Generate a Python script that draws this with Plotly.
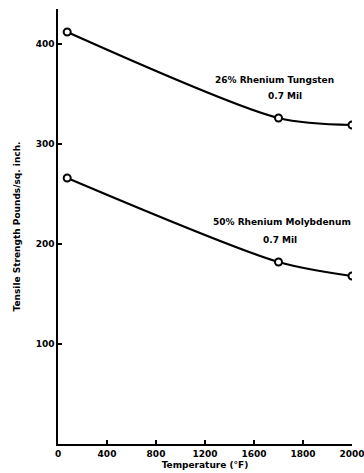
import plotly.graph_objects as go

temps = [75, 1800, 2400]
w_re = [412, 326, 319]
mo_re = [266, 182, 168]
xtick_vals = [0, 400, 800, 1200, 1600, 2000, 2400]
xtick_text = ["0", "400", "800", "1200", "1600", "1800", "2000"]
ytick_vals = [100, 200, 300, 400]
ytick_text = ["100", "200", "300", "400"]

FONT = "DejaVu Sans, Liberation Sans, sans-serif"

fig = go.Figure()
for ys in (w_re, mo_re):
    fig.add_trace(go.Scatter(
        x=temps, y=ys, mode="lines+markers",
        line=dict(color="black", width=2.2, shape="spline", smoothing=0.8),
        marker=dict(symbol="circle", size=7, color="white",
                    line=dict(color="black", width=2)),
        showlegend=False, hoverinfo="skip"))

labels = [
    ("26% Rhenium Tungsten", 1771, 364),
    ("0.7 Mil", 1853, 348),
    ("50% Rhenium Molybdenum", 1829, 222),
    ("0.7 Mil", 1812, 204),
]
for txt, lx, ly in labels:
    fig.add_annotation(x=lx, y=ly, xref="x", yref="y", text=txt, showarrow=False,
                       font=dict(family=FONT, size=9, color="black", weight="bold"))

fig.update_layout(
    width=364, height=473,
    margin=dict(l=58, r=12, t=9, b=29),
    paper_bgcolor="white", plot_bgcolor="white",
    font=dict(family=FONT, size=9, color="black", weight="bold"),
    xaxis=dict(range=[0, 2400], tickvals=xtick_vals, ticktext=xtick_text,
               ticks="inside", ticklen=4, tickwidth=1.5, tickcolor="black",
               ticklabeloverflow="allow", automargin=False,
               showline=True, linecolor="black", linewidth=1.5,
               showgrid=False, zeroline=False,
               title=dict(text="Temperature (°F)", standoff=4,
                          font=dict(family=FONT, size=9, weight="bold"))),
    yaxis=dict(range=[0, 435], tickvals=ytick_vals, ticktext=ytick_text,
               ticks="inside", ticklen=4, tickwidth=1.5, tickcolor="black",
               automargin=False,
               showline=True, linecolor="black", linewidth=1.5,
               showgrid=False, zeroline=False,
               title=dict(text="Tensile Strength Pounds/sq. inch.", standoff=14,
                          font=dict(family=FONT, size=9, weight="bold"))),
)

fig.write_html("out.html")
